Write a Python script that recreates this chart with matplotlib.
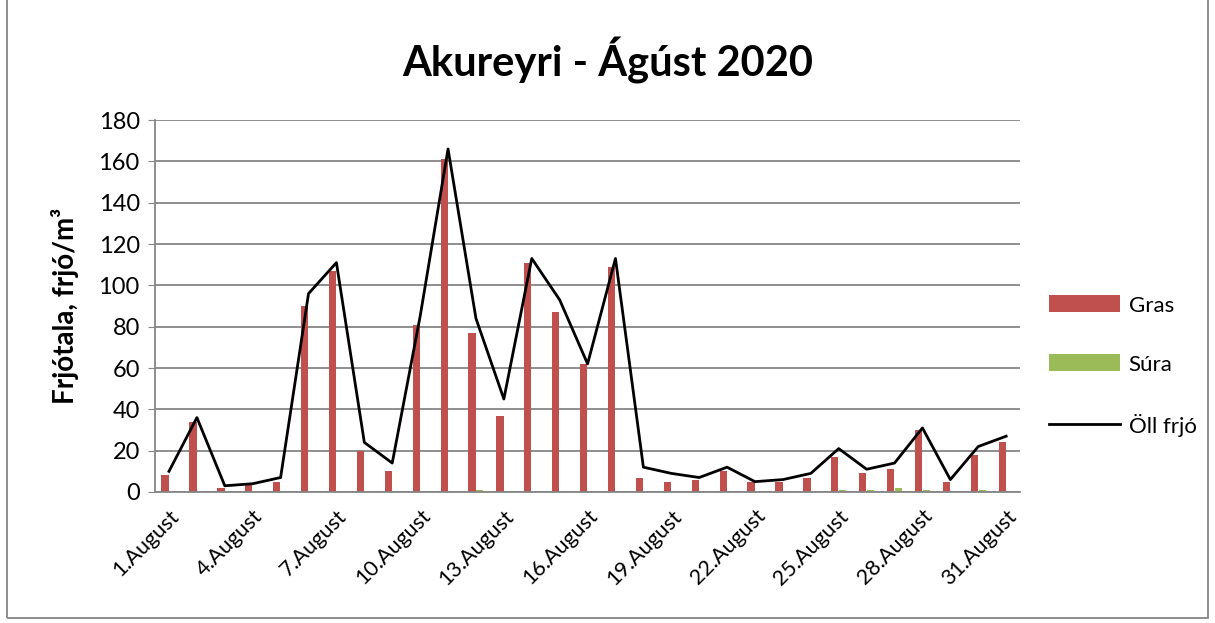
import matplotlib.pyplot as plt
import numpy as np
from matplotlib.patches import Rectangle

plt.rcParams['font.family'] = ['Lato', 'DejaVu Sans']

days = list(range(1, 32))
labels = [str(d) + '.August' for d in days]
gras = [8, 34, 2, 4, 5, 90, 107, 20, 10, 81, 161, 77, 37, 111, 87, 62, 109,
        7, 5, 6, 10, 5, 5, 7, 17, 9, 11, 30, 5, 18, 24]
sura = [0, 0, 0, 0, 0, 0, 0, 0, 0, 0, 0, 1, 0, 0, 0, 0, 0,
        0, 0, 0, 0, 0, 0, 0, 1, 1, 2, 1, 0, 1, 0]
oll = [10, 36, 3, 4, 7, 96, 111, 24, 14, 85, 166, 84, 45, 113, 93, 62, 113,
       12, 9, 7, 12, 5, 6, 9, 21, 11, 14, 31, 6, 22, 27]

fig = plt.figure(figsize=(12.15, 6.23), dpi=100)
ax = fig.add_axes([0.1276, 0.2103, 0.712, 0.597])

x = np.arange(len(days))
b1 = ax.bar(x - 0.14, gras, width=0.26, color='#c0504d', label='Gras', zorder=2)
b2 = ax.bar(x + 0.14, sura, width=0.26, color='#9bbb59', label='Súra', zorder=2)
l1, = ax.plot(x, oll, color='black', lw=2, label='Öll frjó', zorder=3)

ax.set_xlim(-0.5, len(days) - 0.5)
ax.set_ylim(0, 180)
ax.set_yticks(range(0, 181, 20))
ax.yaxis.grid(True, color='#868686', lw=1.3, zorder=0)
ax.set_xticks(x[::3])
ax.set_xticklabels(labels[::3], rotation=45, ha='right', rotation_mode='anchor', fontsize=15.5)
ax.tick_params(axis='y', labelsize=17, length=5, color='#868686', pad=6)
ax.tick_params(axis='x', length=0, pad=10)
for s in ['top', 'right']:
    ax.spines[s].set_visible(False)
for s in ['left', 'bottom']:
    ax.spines[s].set_color('#868686')
    ax.spines[s].set_linewidth(1.3)

ax.set_ylabel('Frjótala, frjó/m³', fontsize=20, fontweight='bold', labelpad=14)
fig.text(0.5, 0.903, 'Akureyri - Ágúst 2020', ha='center', va='center', fontsize=30, fontweight='bold')

ax.legend(handles=[b1, b2, l1], loc='center left', bbox_to_anchor=(1.01, 0.339), frameon=False,
          fontsize=16, labelspacing=1.75, handlelength=3.2, handleheight=0.8, handletextpad=0.4)

fig.patches.append(Rectangle((0.006, 0.008), 0.988, 1.2, transform=fig.transFigure,
                             fill=False, edgecolor='#868686', lw=1.3))

fig.savefig('out.png', dpi=100)
